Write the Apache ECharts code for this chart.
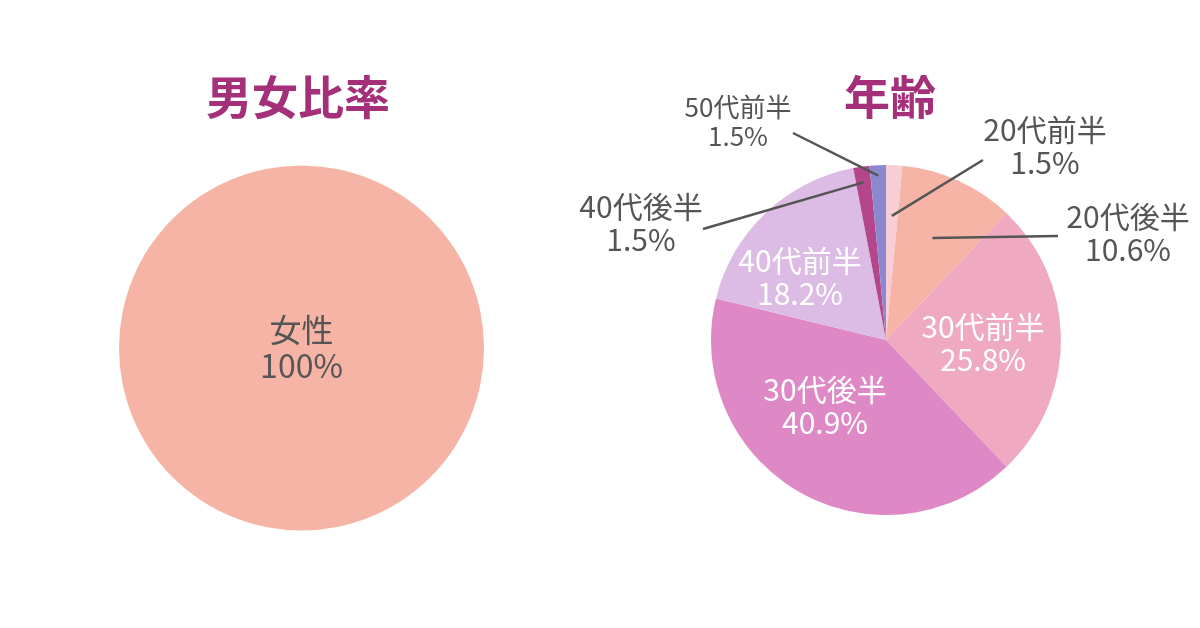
<!DOCTYPE html>
<html lang="ja">
<head>
    <meta charset="UTF-8">
    <title>男女比率・年齢</title>
    <script src="https://cdn.jsdelivr.net/npm/echarts@6/dist/echarts.min.js"></script>
    <style>
        html, body { margin: 0; padding: 0; background: #fff; }
    </style>
</head>
<body>
    <div id="main" style="width: 1200px;height:628px;"></div>
    <script type="text/javascript">
        // Data
        const genderNames = ['女性'];
        const genderValues = [100];

        const ageNames = ['20代前半', '20代後半', '30代前半', '30代後半', '40代前半', '40代後半', '50代前半'];
        const ageValues = [1.5, 10.6, 25.8, 40.9, 18.2, 1.5, 1.5];
        const ageColors = ['#f7cdd6', '#f5b4a6', '#efa9c1', '#df88c6', '#dcbce4', '#b4468c', '#8d88cd'];

        const FONT = '"Noto Sans CJK JP", "Noto Sans", sans-serif';
        const TEXT = '#555555';

        // right pie geometry
        const CX = 886, CY = 340, R = 175;

        // label placement for the age pie: centre of label, leader line start, anchor radius fraction
        const ageLabelLayout = [
            { x: 1045, y: 146, inside: false, line: [983, 160], k: 0.71, size: 30 },
            { x: 1128, y: 233, inside: false, line: [1058, 236], k: 0.64, size: 30 },
            { x: 983, y: 343, inside: true, size: 30 },
            { x: 825, y: 406, inside: true, size: 30 },
            { x: 800, y: 277, inside: true, size: 30 },
            { x: 641, y: 223, inside: false, line: [703, 229], k: 0.91, size: 30 },
            { x: 738, y: 122, inside: false, line: [793, 133], k: 0.94, size: 26 }
        ];

        // mid angle of each slice (radians, clockwise from 12 o'clock)
        const total = ageValues.reduce((a, b) => a + b, 0);
        let acc = 0;
        const midAngles = ageValues.map(v => {
            const m = (acc + v / 2) / total * Math.PI * 2;
            acc += v;
            return m;
        });

        const fmt = p => p.name + '\n' + (p.value % 1 === 0 ? p.value : p.value.toFixed(1)) + '%';

        const placeLabel = function (params) {
            const L = ageLabelLayout[params.dataIndex];
            const out = { x: L.x, y: L.y, align: 'center', verticalAlign: 'middle' };
            if (!L.inside) {
                const a = midAngles[params.dataIndex];
                const ix = CX + Math.sin(a) * R * L.k;
                const iy = CY - Math.cos(a) * R * L.k;
                out.labelLinePoints = [[L.line[0], L.line[1]], [ix, iy]];
            }
            return out;
        };

        // wantInside: true = coloured base pie with labels inside slices,
        // false = transparent overlay carrying outside labels and leader lines
        const ageData = wantInside => ageNames.map((n, i) => {
            const L = ageLabelLayout[i];
            const show = L.inside === wantInside;
            return {
                name: n,
                value: ageValues[i],
                itemStyle: { color: wantInside ? ageColors[i] : 'rgba(0,0,0,0)', borderWidth: 0 },
                label: {
                    show: show,
                    position: L.inside ? 'inside' : 'outside',
                    color: L.inside ? '#ffffff' : TEXT,
                    fontSize: L.size,
                    lineHeight: L.size + 3
                },
                labelLine: { show: show && !L.inside }
            };
        });

        let myChart = echarts.init(document.getElementById('main'));

        const agePieBase = {
            type: 'pie',
            center: [CX, CY],
            radius: R,
            startAngle: 90,
            clockwise: true,
            silent: true,
            avoidLabelOverlap: false,
            minShowLabelAngle: 0,
            emphasis: { disabled: true },
            label: { show: true, formatter: fmt, fontFamily: FONT },
            labelLine: { show: true, length: 10, length2: 10, lineStyle: { color: TEXT, width: 2.5 } },
            labelLayout: placeLabel
        };

        let options = {
            animation: false,
            backgroundColor: '#ffffff',
            title: [
                {
                    text: '男女比率',
                    left: 293, top: 66, textAlign: 'center',
                    textStyle: { fontFamily: FONT, fontSize: 46, fontWeight: 'bold', color: '#a4307a', lineHeight: 52 }
                },
                {
                    text: '年齢',
                    left: 885, top: 66, textAlign: 'center',
                    textStyle: { fontFamily: FONT, fontSize: 46, fontWeight: 'bold', color: '#a4307a', lineHeight: 52 }
                }
            ],
            series: [
                {
                    name: '男女比率',
                    type: 'pie',
                    center: [301.5, 348],
                    radius: 182.5,
                    silent: true,
                    itemStyle: { color: '#f5b4a6', borderWidth: 0 },
                    label: {
                        show: true,
                        position: 'center',
                        formatter: fmt,
                        fontFamily: FONT,
                        fontSize: 32,
                        lineHeight: 36,
                        color: TEXT
                    },
                    labelLine: { show: false },
                    emphasis: { disabled: true },
                    data: genderNames.map((n, i) => ({ name: n, value: genderValues[i] }))
                },
                Object.assign({}, agePieBase, { name: '年齢', data: ageData(true) }),
                Object.assign({}, agePieBase, { name: '年齢ラベル', z: 3, data: ageData(false) })
            ]
        };

        myChart.setOption(options);
    </script>
</body>
</html>
